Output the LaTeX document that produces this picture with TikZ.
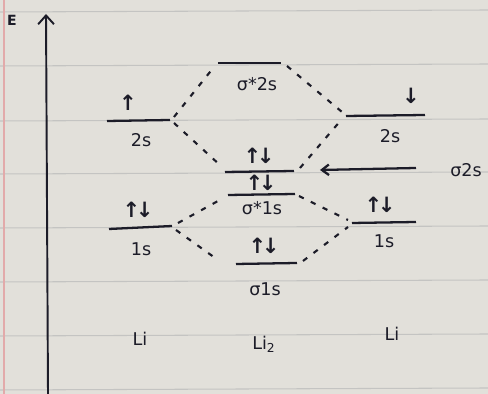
\documentclass[tikz,border=0pt]{standalone}
\usepackage{fontspec}
\setmainfont{DejaVu Sans}
\usetikzlibrary{arrows.meta}
\definecolor{paper}{RGB}{226,224,218}
\definecolor{rule}{RGB}{196,196,194}
\definecolor{ink}{RGB}{28,28,40}
\definecolor{margin}{RGB}{226,170,170}
\newcommand{\updn}{↑\kern-2.5pt↓}
\tikzset{
  level/.style={draw=ink,line width=1.3pt},
  corr/.style={draw=ink,line width=1.2pt,dash pattern=on 3pt off 4.5pt},
  lbl/.style={text=ink,font=\fontsize{10}{12}\selectfont,inner sep=0pt},
  elec/.style={text=ink,font=\fontsize{12}{12}\selectfont\bfseries,inner sep=0pt},
}
\begin{document}
\begin{tikzpicture}[x=0.02cm,y=-0.02cm]
\fill[paper] (0,0) rectangle (488,394);
\useasboundingbox (0,0) rectangle (488,394);
% ruled lines
\foreach \yy in {12,66,121,174,228,282,336,390}
  \draw[rule,line width=0.6pt] (0,\yy) -- (488,\yy-2);
\draw[margin,line width=0.8pt] (4,0) -- (4,394);
% energy axis
\coordinate (axb) at (48,394);
\coordinate (axt) at (46,14);
\draw[ink,line width=1.1pt,-{Straight Barb[length=5pt,width=9pt]}] (axb) -- (axt);
\node[lbl,font=\fontsize{8}{10}\selectfont\bfseries] (E) at (12,20) {E};
% levels: left Li
\coordinate (L2a) at (107,121); \coordinate (L2b) at (170,120);
\coordinate (L1a) at (109,229); \coordinate (L1b) at (172,226);
% Li2
\coordinate (S2a) at (218,63); \coordinate (S2b) at (281,63);
\coordinate (B2a) at (225,172); \coordinate (B2b) at (294,171);
\coordinate (A1a) at (228,195); \coordinate (A1b) at (295,194);
\coordinate (B1a) at (236,264); \coordinate (B1b) at (297,263);
% right Li
\coordinate (R2a) at (346,116); \coordinate (R2b) at (425,115);
\coordinate (R1a) at (352,223); \coordinate (R1b) at (416,222);
\foreach \a/\b in {L2a/L2b,L1a/L1b,S2a/S2b,B2a/B2b,A1a/A1b,B1a/B1b,R2a/R2b,R1a/R1b}
  \draw[level] (\a) -- (\b);
% correlation lines
\draw[corr] ([shift={(4,-3)}]L2b) -- ([shift={(-4,4)}]S2a);
\draw[corr] ([shift={(4,3)}]L2b) -- ([shift={(-4,-6)}]B2a);
\draw[corr] ([shift={(6,3)}]S2b) -- ([shift={(-4,-4)}]R2a);
\draw[corr] ([shift={(6,-3)}]B2b) -- ([shift={(-4,3)}]R2a);
\draw[corr] ([shift={(6,-3)}]L1b) -- ([shift={(-10,6)}]A1a);
\draw[corr] ([shift={(4,4)}]L1b) -- ([shift={(-18,-4)}]B1a);
\draw[corr] ([shift={(4,2)}]A1b) -- ([shift={(-4,-3)}]R1a);
\draw[corr] ([shift={(6,-2)}]B1b) -- ([shift={(-4,4)}]R1a);
% sigma 2s pointer
\coordinate (pS) at (416,168);
\coordinate (pE) at (320,170);
\draw[ink,line width=1.3pt,-{Straight Barb[length=4pt,width=6pt]}] (pS) -- (pE);
\node[lbl] (s2s) at (466,170) {σ2s};
% electrons
\node[elec] (eL2) at (128,103) {↑};
\node[elec] (eL1) at (138,210) {\updn};
\node[elec] (eB2) at (259,156) {\updn};
\node[elec] (eA1) at (261,183) {\updn};
\node[elec] (eB1) at (264,246) {\updn};
\node[elec] (eR2) at (411,96) {↓};
\node[elec] (eR1) at (380,205) {\updn};
% orbital labels
\node[lbl] (t2sL) at (141,140) {2s};
\node[lbl] (t1sL) at (141,249) {1s};
\node[lbl] (tS2) at (257,84) {σ*2s};
\node[lbl] (tA1) at (262,208) {σ*1s};
\node[lbl] (tB1) at (265,289) {σ1s};
\node[lbl] (t2sR) at (390,136) {2s};
\node[lbl] (t1sR) at (384,241) {1s};
% atoms
\node[lbl] (liL) at (140,339) {Li};
\node[lbl] (li2) at (264,344) {Li\textsubscript{2}};
\node[lbl] (liR) at (392,334) {Li};
\end{tikzpicture}
\end{document}
